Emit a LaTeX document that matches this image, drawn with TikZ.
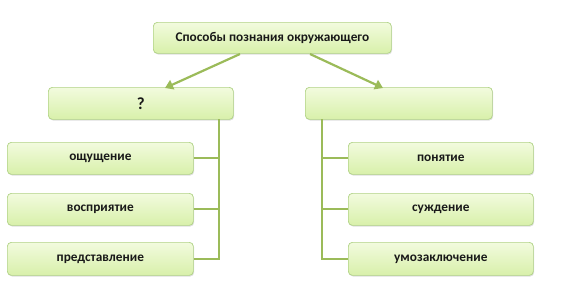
\documentclass[tikz,border=0pt]{standalone}
\usepackage{fontspec}
\setmainfont{Carlito}
\usetikzlibrary{arrows.meta,shadows}
\definecolor{lineG}{HTML}{9BBB59}
\definecolor{edgeG}{HTML}{B0D285}
\definecolor{topG}{HTML}{F2FBDE}
\definecolor{botG}{HTML}{D8F0AA}
\tikzset{
  gbox/.style={draw=edgeG, line width=0.7pt, rounded corners=4pt,
    top color=topG, bottom color=botG, anchor=north west,
    font=\bfseries\fontsize{13.3}{15}\selectfont, text=black!90,
    drop shadow={shadow xshift=0.8pt, shadow yshift=-1.2pt, opacity=0.25}},
  conn/.style={draw=lineG, line width=2.2pt},
  arr/.style={conn, -{Triangle[length=8pt,width=10pt]}}
}
\begin{document}
\begin{tikzpicture}[x=1pt,y=-1pt]
\useasboundingbox (0,0) rectangle (584,301);
% top
\node[gbox, minimum width=238pt, minimum height=31pt] (top) at (153,22) {Способы познания окружающего};
\node[gbox, minimum width=185pt, minimum height=32pt, font=\bfseries\fontsize{17}{19}\selectfont] (L) at (48,87) {?};
\node[gbox, minimum width=187pt, minimum height=32pt] (R) at (305,87) {};
\node[gbox, minimum width=186pt, minimum height=32pt] (L1) at (7,142) {ощущение};
\node[gbox, minimum width=186pt, minimum height=32pt] (L2) at (7,193) {восприятие};
\node[gbox, minimum width=186pt, minimum height=33pt] (L3) at (7,242) {представление};
\node[gbox, minimum width=185pt, minimum height=32pt] (R1) at (348,142) {понятие};
\node[gbox, minimum width=185pt, minimum height=32pt] (R2) at (348,193) {суждение};
\node[gbox, minimum width=185pt, minimum height=33pt] (R3) at (348,242) {умозаключение};
% arrows
\coordinate (tl) at (240,54);
\coordinate (tr) at (310,54);
\coordinate (el) at (165,88);
\coordinate (er) at (383,88);
\draw[arr] (tl) -- (el);
\draw[arr] (tr) -- (er);
% left tree
\coordinate (lv) at (219,119);
\draw[conn] (lv) -- (lv |- L3.east) -- (L3.east);
\draw[conn] (L1.east) -- (lv |- L1.east);
\draw[conn] (L2.east) -- (lv |- L2.east);
% right tree
\coordinate (rv) at (322,119);
\draw[conn] (rv) -- (rv |- R3.west) -- (R3.west);
\draw[conn] (R1.west) -- (rv |- R1.west);
\draw[conn] (R2.west) -- (rv |- R2.west);
\end{tikzpicture}
\end{document}
